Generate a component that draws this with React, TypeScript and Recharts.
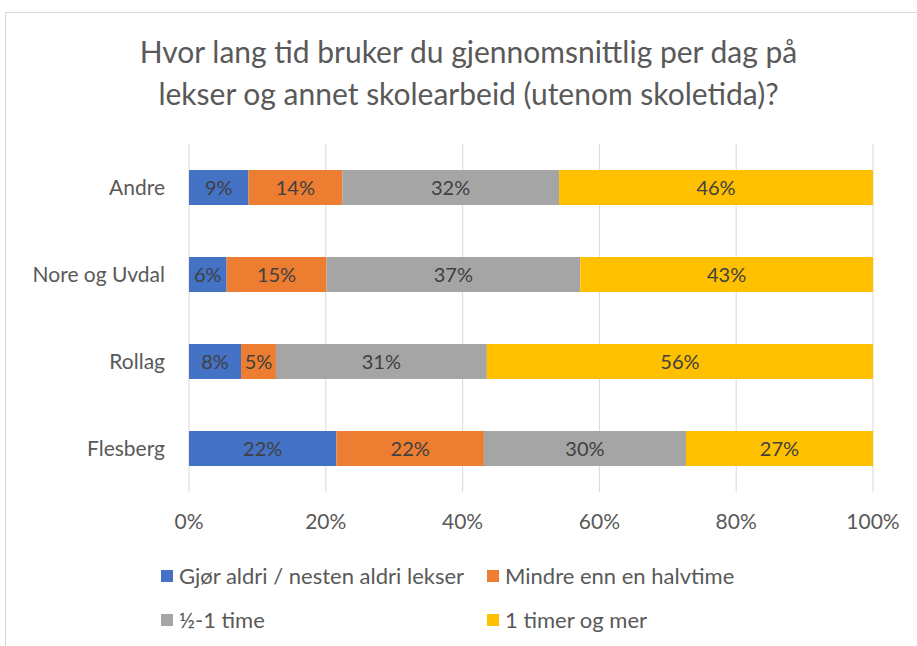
import React from 'react'
import {
  Bar,
  XAxis,
  YAxis,
  BarChart,
  LabelList,
  CartesianGrid
} from 'recharts'

const categories = ['Andre', 'Nore og Uvdal', 'Rollag', 'Flesberg']
const aldri = [8.7, 5.5, 7.6, 21.6]
const halvtime = [13.7, 14.6, 5.1, 21.6]
const enTime = [31.7, 37.1, 30.8, 29.6]
const merEnnTime = [45.9, 42.8, 56.4, 27.4]
const xTicks = [0, 0.2, 0.4, 0.6, 0.8, 1]

const series = [
  { key: 'aldri', name: 'Gjør aldri / nesten aldri lekser', color: '#4472C4' },
  { key: 'halvtime', name: 'Mindre enn en halvtime', color: '#ED7D31' },
  { key: 'enTime', name: '½-1 time', color: '#A5A5A5' },
  { key: 'merEnnTime', name: '1 timer og mer', color: '#FFC000' }
]

const data = categories.map((name, i) => ({
  name,
  aldri: aldri[i],
  halvtime: halvtime[i],
  enTime: enTime[i],
  merEnnTime: merEnnTime[i]
}))

const font = 'Lato, "Noto Sans", sans-serif'

const App: React.FC = () => {
  return (
    <div
      style={{
        position: 'absolute',
        left: 0,
        top: 0,
        width: 917,
        height: 646,
        background: '#fff',
        overflow: 'hidden',
        fontFamily: font
      }}
    >
      <div
        style={{
          position: 'absolute',
          left: 5,
          top: 12,
          width: 940,
          height: 660,
          borderLeft: '1px solid #d9d9d9',
          borderTop: '1px solid #d9d9d9'
        }}
      />
      <div
        style={{
          position: 'absolute',
          left: 10,
          top: 30,
          width: 917,
          textAlign: 'center',
          fontSize: 30,
          lineHeight: '42px',
          color: '#595959'
        }}
      >
        Hvor lang tid bruker du gjennomsnittlig per dag på
        <br />
        lekser og annet skolearbeid (utenom skoletida)?
      </div>

      <div style={{ position: 'absolute', left: 0, top: 0 }}>
        <BarChart
          width={917}
          height={536}
          data={data}
          layout="vertical"
          stackOffset="expand"
          barSize={35}
          margin={{ top: 144, right: 44, bottom: 4, left: 0 }}
        >
          <CartesianGrid horizontal={false} stroke="#d9d9d9" />
          <XAxis
            type="number"
            domain={[0, 1]}
            ticks={xTicks}
            tickFormatter={(v: number) => `${Math.round(v * 100)}%`}
            axisLine={false}
            tickLine={false}
            tickMargin={16}
            height={40}
            tick={{ fill: '#595959', fontSize: 21, fontFamily: font }}
          />
          <YAxis
            type="category"
            dataKey="name"
            width={189}
            axisLine={false}
            tickLine={false}
            tickMargin={18}
            tick={{ fill: '#595959', fontSize: 21, fontFamily: font }}
          />
          {series.map((s) => (
            <Bar
              key={s.key}
              dataKey={s.key}
              name={s.name}
              stackId="a"
              fill={s.color}
              isAnimationActive={false}
            >
              <LabelList
                dataKey={s.key}
                position="center"
                formatter={(v: number) => `${Math.round(v)}%`}
                style={{ fill: '#404040', fontSize: 20, fontFamily: font }}
              />
            </Bar>
          ))}
        </BarChart>
      </div>

      <div
        style={{
          position: 'absolute',
          left: 161,
          top: 562,
          display: 'grid',
          gridTemplateColumns: '326px 300px',
          rowGap: 16,
          fontSize: 22,
          color: '#595959',
          lineHeight: '28px'
        }}
      >
        {series.map((s) => (
          <div key={s.key} style={{ display: 'flex', alignItems: 'center' }}>
            <span
              style={{
                width: 12,
                height: 12,
                background: s.color,
                marginRight: 6,
                display: 'inline-block',
                flexShrink: 0
              }}
            />
            <span style={{ whiteSpace: 'nowrap' }}>{s.name}</span>
          </div>
        ))}
      </div>
    </div>
  )
}

export default App
